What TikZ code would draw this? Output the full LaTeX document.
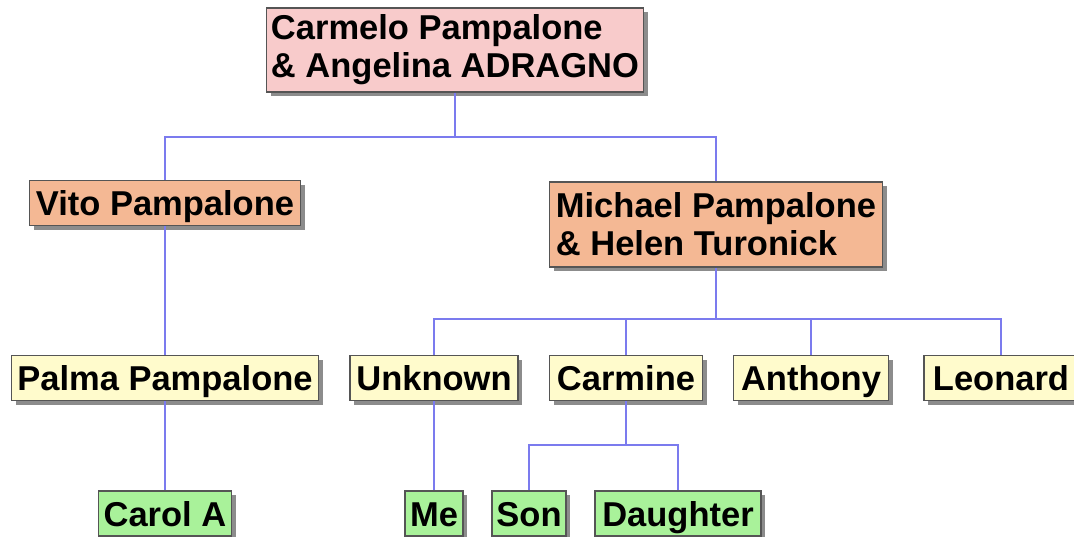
\documentclass[tikz,border=0pt]{standalone}
\usepackage{fontspec}
\setmainfont{Liberation Sans}
\usetikzlibrary{shadows}
\definecolor{pinkbox}{HTML}{F8CBCB}
\definecolor{salmonbox}{HTML}{F4B894}
\definecolor{yellowbox}{HTML}{FFFBCC}
\definecolor{greenbox}{HTML}{A9F29A}
\definecolor{connblue}{HTML}{7B7BEE}
\definecolor{boxborder}{HTML}{555555}
\tikzset{
  person/.style={draw=boxborder, line width=1.2pt, inner sep=0pt, align=left,
    font=\fontsize{34.5}{38}\selectfont\bfseries,
    drop shadow={shadow xshift=4pt, shadow yshift=-4pt, fill=black!45, opacity=1}},
  oneline/.style={text height=30pt, text depth=5pt, minimum height=45pt},
  gen0/.style={person, fill=pinkbox},
  gen1/.style={person, fill=salmonbox},
  gen2/.style={person, oneline, fill=yellowbox},
  gen3/.style={person, oneline, fill=greenbox},
  conn/.style={draw=connblue, line width=1.4pt},
}
\begin{document}
\begin{tikzpicture}[x=1pt,y=-1pt]
\fill[white] (0,0) rectangle (1074,536);
\useasboundingbox (0,0) rectangle (1074,536);
\clip (0,0) rectangle (1074,536);
% generation 0
\node[gen0, minimum width=377pt, minimum height=84pt] (top) at (455,50) {Carmelo Pampalone\\\& Angelina ADRAGNO};
% generation 1
\node[gen1, oneline, minimum width=271pt] (vito) at (165,203) {Vito Pampalone};
\node[gen1, minimum width=333pt, minimum height=85pt] (michael) at (716,224.5) {Michael Pampalone\\\& Helen Turonick};
% generation 2
\node[gen2, minimum width=307pt] (palma) at (165,378) {Palma Pampalone};
\node[gen2, minimum width=168pt] (unknown) at (434,378) {Unknown};
\node[gen2, minimum width=153pt] (carmine) at (626,378) {Carmine};
\node[gen2, minimum width=155pt] (anthony) at (811,378) {Anthony};
\node[gen2, minimum width=154pt] (leonard) at (1001,378) {Leonard};
% generation 3
\node[gen3, minimum width=133pt] (carol) at (165,513.5) {Carol A};
\node[gen3, minimum width=58pt] (me) at (434,513.5) {Me};
\node[gen3, minimum width=74pt] (son) at (529,513.5) {Son};
\node[gen3, minimum width=166pt] (daughter) at (678,513.5) {Daughter};
% connectors
\coordinate (b1) at (455,137);
\coordinate (b2) at (716,319);
\coordinate (b3) at (626,445);
\draw[conn] (top.south) -- (b1);
\draw[conn] (vito.north) |- (b1) -| (michael.north);
\draw[conn] (vito.south) -- (palma.north);
\draw[conn] (palma.south) -- (carol.north);
\draw[conn] (michael.south) -- (b2);
\draw[conn] (unknown.north) |- (b2) -| (leonard.north);
\draw[conn] (carmine.north) -- (carmine.north |- b2);
\draw[conn] (anthony.north) -- (anthony.north |- b2);
\draw[conn] (unknown.south) -- (me.north);
\draw[conn] (carmine.south) -- (b3);
\draw[conn] (son.north) |- (b3) -| (daughter.north);
\end{tikzpicture}
\end{document}
